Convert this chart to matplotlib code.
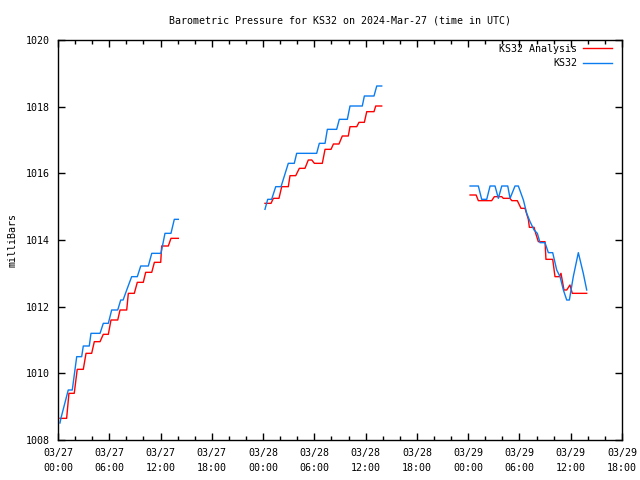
import numpy as np
import matplotlib
matplotlib.use("Agg")
import matplotlib.pyplot as plt
from matplotlib.ticker import MultipleLocator

nan = np.nan

# hours since 2024-03-27 00:00 UTC, NaN splits the gaps
hours_analysis = [0.23, 1.01, 1.28, 1.9, 2.25, 2.96, 3.28, 3.94, 4.25, 4.92, 5.3, 5.89, 6.2, 6.99,
                  7.26, 8.04, 8.23, 8.93, 9.28, 9.98, 10.26, 10.97, 11.28, 12.02, 12.13, 12.91,
                  13.22, 14.08, nan,
                  24.22, 24.93, 25.2, 25.86, 26.18, 26.95, 27.15, 27.82, 28.24, 28.9, 29.29, 29.7,
                  30.0, 30.93, 31.25, 31.95, 32.23, 32.88, 33.27, 33.97, 34.17, 34.96, 35.22,
                  35.85, 36.13, 36.98, 37.18, 37.88, nan,
                  48.22, 48.93, 49.19, 50.75, 51.06, 51.93, 52.11, 52.9, 53.1, 53.75, 54.18, 54.65,
                  55.04, 55.16, 55.71, 55.9, 56.21, 56.99, 57.1, 57.89, 58.16, 58.66, 58.86, 59.21,
                  59.53, 59.91, 60.18, 61.87]
p_analysis = [1008.65, 1008.65, 1009.4, 1009.4, 1010.12, 1010.12, 1010.6, 1010.6, 1010.95, 1010.95,
              1011.17, 1011.17, 1011.6, 1011.6, 1011.9, 1011.9, 1012.4, 1012.4, 1012.73, 1012.73,
              1013.03, 1013.03, 1013.33, 1013.33, 1013.82, 1013.82, 1014.05, 1014.05, nan,
              1015.1, 1015.1, 1015.25, 1015.25, 1015.6, 1015.6, 1015.93, 1015.93, 1016.15, 1016.15,
              1016.4, 1016.4, 1016.3, 1016.3, 1016.72, 1016.72, 1016.88, 1016.88, 1017.12, 1017.12,
              1017.4, 1017.4, 1017.53, 1017.53, 1017.85, 1017.85, 1018.02, 1018.02, nan,
              1015.35, 1015.35, 1015.18, 1015.18, 1015.3, 1015.3, 1015.25, 1015.25, 1015.18, 1015.18,
              1014.95, 1014.95, 1014.62, 1014.38, 1014.38, 1014.2, 1013.95, 1013.95, 1013.42, 1013.42,
              1012.9, 1012.9, 1013.0, 1012.5, 1012.5, 1012.65, 1012.4, 1012.4]

hours_obs = [0.23, 0.35, 1.2, 1.67, 2.19, 2.77, 2.96, 3.66, 3.86, 4.92, 5.3, 5.89, 6.28, 6.99, 7.34,
             7.62, 8.04, 8.62, 9.28, 9.68, 10.57, 10.97, 12.05, 12.52, 13.22, 13.61, 14.08, nan,
             24.22, 24.54, 25.0, 25.48, 26.1, 26.95, 27.65, 27.93, 30.27, 30.58, 31.25, 31.52, 32.61,
             32.92, 33.86, 34.17, 35.61, 35.85, 36.98, 37.3, 37.88, nan,
             48.22, 49.19, 49.58, 50.17, 50.56, 51.14, 51.53, 51.93, 52.63, 52.9, 53.48, 53.87, 54.46,
             54.85, 55.24, 55.71, 56.09, 56.41, 56.99, 57.38, 57.89, 58.36, 58.75, 59.14, 59.53,
             59.84, 60.3, 60.89, 61.47, 61.87]
p_obs = [1008.51, 1008.66, 1009.5, 1009.5, 1010.5, 1010.5, 1010.82, 1010.82, 1011.2, 1011.2, 1011.5,
         1011.5, 1011.9, 1011.9, 1012.2, 1012.2, 1012.5, 1012.9, 1012.9, 1013.22, 1013.22, 1013.6,
         1013.6, 1014.2, 1014.2, 1014.62, 1014.62, nan,
         1014.92, 1015.22, 1015.22, 1015.6, 1015.6, 1016.3, 1016.3, 1016.6, 1016.6, 1016.9, 1016.9,
         1017.32, 1017.32, 1017.62, 1017.62, 1018.02, 1018.02, 1018.32, 1018.32, 1018.62, 1018.62, nan,
         1015.62, 1015.62, 1015.22, 1015.22, 1015.62, 1015.62, 1015.25, 1015.62, 1015.62, 1015.25,
         1015.62, 1015.62, 1015.2, 1014.8, 1014.55, 1014.3, 1014.2, 1013.92, 1013.92, 1013.62,
         1013.62, 1013.1, 1012.9, 1012.5, 1012.2, 1012.2, 1012.9, 1013.62, 1013.0, 1012.5]

tick_hours = list(range(0, 67, 6))
tick_labels = ["03/27\n00:00", "03/27\n06:00", "03/27\n12:00", "03/27\n18:00",
               "03/28\n00:00", "03/28\n06:00", "03/28\n12:00", "03/28\n18:00",
               "03/29\n00:00", "03/29\n06:00", "03/29\n12:00", "03/29\n18:00"]

plt.rcParams['font.family'] = ['DejaVu Sans Mono']
plt.rcParams['font.size'] = 7.2

fig = plt.figure(figsize=(6.4, 4.8), dpi=100)
ax = fig.add_axes([58/640, 40/480, 564/640, 400/480])

ax.plot(hours_analysis, p_analysis, color='#ff0000', lw=1, label='KS32 Analysis')
ax.plot(hours_obs, p_obs, color='#0a7cf0', lw=1, label='KS32')

ax.set_xlim(0, 66)
ax.set_ylim(1008, 1020)
ax.set_xticks(tick_hours)
ax.set_xticklabels(tick_labels, linespacing=1.55)
ax.xaxis.set_minor_locator(MultipleLocator(2))
ax.set_yticks(range(1008, 1021, 2))
ax.tick_params(which='both', direction='in', top=True, right=True, width=1)
ax.tick_params(which='major', length=5, pad=6)
ax.tick_params(which='minor', length=3)
for s in ax.spines.values():
    s.set_linewidth(1)

ax.set_ylabel('milliBars', labelpad=6)
ax.set_title('Barometric Pressure for KS32 on 2024-Mar-27 (time in UTC)', fontsize=7.2, pad=12)
ax.legend(loc='upper right', frameon=False, markerfirst=False, handlelength=2.9,
          borderaxespad=0.2, borderpad=0.2, labelspacing=0.45, handletextpad=0.6,
          bbox_to_anchor=(0.99, 1.0))

fig.savefig('out.png', dpi=100)
